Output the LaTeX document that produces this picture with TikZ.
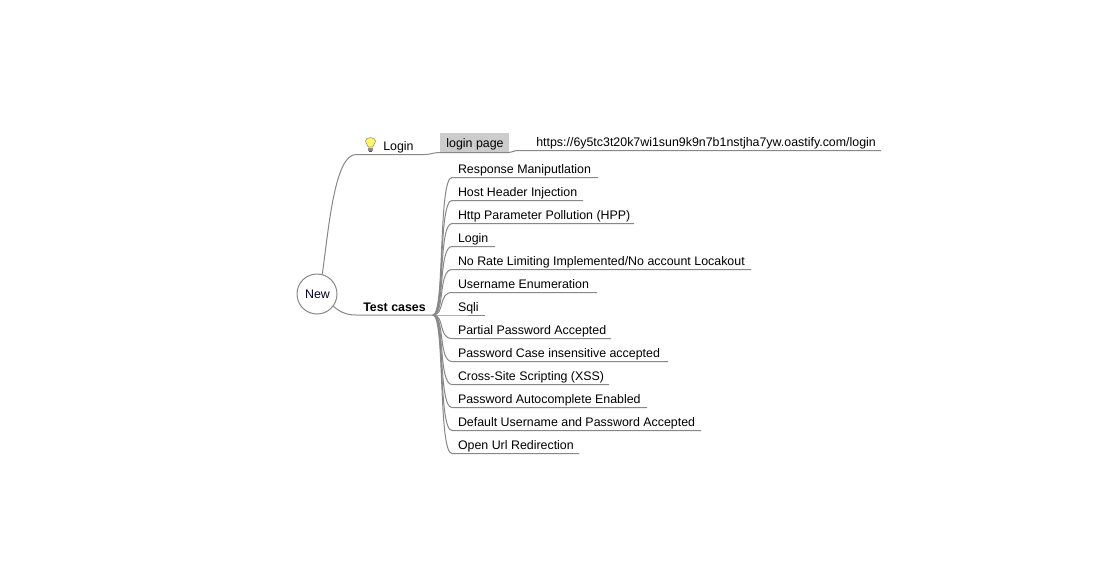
\documentclass[tikz,border=0pt]{standalone}
\usepackage{fontspec}
\setmainfont{Liberation Sans}
\definecolor{edgegray}{HTML}{888888}
\tikzset{
  edgeline/.style={draw=edgegray,line width=0.75pt},
  basefont/.style={font=\fontsize{9.3}{11}\selectfont,text=black,inner sep=0pt},
  leaf/.style={basefont,anchor=south west,text height=10pt,text depth=3pt,align=left,outer sep=0pt},
}
\begin{document}
\begin{tikzpicture}[x=0.75pt,y=-0.75pt]
\useasboundingbox (0,0) rectangle (1105,579);
\fill[white] (0,0) rectangle (1105,579);
% root
\node[circle,draw=edgegray,line width=0.75pt,minimum size=30pt,inner sep=0pt] (root) at (317,294) {};
\node[basefont,text=black!85!blue] (roottext) at (317.5,294.5) {New};
% junctions
\coordinate (loginL) at (356,154.5);
\coordinate (loginR) at (425,154.5);
\coordinate (pageL) at (440,152.5);
\coordinate (pageR) at (509,152.5);
\coordinate (urlL) at (518,150.5);
\coordinate (urlR) at (881,150.5);
\coordinate (testL) at (356,315);
\coordinate (hub) at (433,315);
% gray box
\node[anchor=south west,fill=black!20,minimum width=51.75pt,minimum height=14.6pt,inner sep=0pt] (pagebox) at (pageL) {};
\node[basefont] (pagetext) at (475,144) {login page};
\node[basefont,anchor=base west] (urltext) at (536,146) {https://6y5tc3t20k7wi1sun9k9n7b1nstjha7yw.oastify.com/login};
\node[basefont,anchor=base west] (logintext) at (383,150) {Login};
\node[basefont,font=\fontsize{9.3}{11}\bfseries\selectfont,anchor=base west] (testtext) at (363,311) {Test cases};
% bulb
\fill[draw=black!45,line width=0.4pt,fill=yellow!60!white] (368.2,147) .. controls (367.4,144) and (365.5,143) .. (365.5,141) .. controls (365.5,136.5) and (375.5,136.5) .. (375.5,141) .. controls (375.5,143) and (373.6,144) .. (372.8,147) -- cycle;
\fill[black!45] (368.4,147.5) rectangle (372.6,150.5);
\fill[black!70] (369.4,150.5) rectangle (371.6,152);
% top branch
\draw[edgeline] (root.75) .. controls (329,225) and (335,154.5) .. (loginL) -- (loginR) .. controls (431,154.5) and (433,152.5) .. (pageL) -- (pageR) .. controls (512,152.5) and (514,150.5) .. (urlL) -- (urlR);
\draw[edgeline] (root.-37) .. controls (339,311) and (345,315) .. (testL) -- (hub);
% leaves
\foreach \nm/\yy/\xe/\tx in {
 a/177.5/598/{Response Maniputlation},
 b/200.5/583/{Host Header Injection},
 c/223.5/634/{Http Parameter Pollution (HPP)},
 d/246.5/495/{Login},
 e/269.5/751/{No Rate Limiting Implemented/No account Locakout},
 f/292.5/597/{Username Enumeration},
 g/315/485/{Sqli},
 h/338.5/611/{Partial Password Accepted},
 i/361.5/668/{Password Case insensitive accepted},
 j/384.5/609/{Cross-Site Scripting (XSS)},
 k/407.5/647/{Password Autocomplete Enabled},
 l/430.5/701/{Default Username and Password Accepted},
 m/453.5/579/{Open Url Redirection}}
{
  \node[leaf] (\nm) at (458,\yy) {\tx};
  \coordinate (\nm s) at (452,\yy);
  \coordinate (\nm e) at (\xe,\yy);
  \coordinate (\nm c) at (438,\yy);
  \draw[edgeline] (hub) .. controls (445,315) and (\nm c) .. (\nm s) -- (\nm e);
}
\end{tikzpicture}
\end{document}
